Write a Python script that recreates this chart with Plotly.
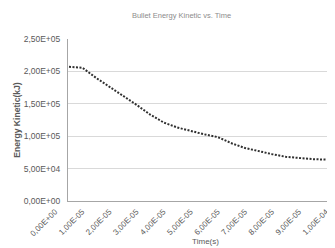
import plotly.graph_objects as go

time_s = [0.0, 5e-6, 1.0e-5, 1.5e-5, 2.0e-5, 2.5e-5, 3.0e-5, 3.5e-5, 4.0e-5, 4.5e-5,
          5.0e-5, 5.5e-5, 6.0e-5, 6.5e-5, 7.0e-5, 7.5e-5, 8.0e-5, 8.5e-5, 9.0e-5, 9.5e-5, 1.0e-4]
energy_kj = [207000, 205500, 190000, 176500, 163000, 148200, 133200, 121000, 113400, 107500,
             102800, 98500, 89100, 81700, 76600, 72300, 68200, 66000, 64600, 63800, 63500]

x_tickvals = [0.0, 1e-5, 2e-5, 3e-5, 4e-5, 5e-5, 6e-5, 7e-5, 8e-5, 9e-5, 1e-4]
x_ticktext = ["0,00E+00", "1,00E-05", "2,00E-05", "3,00E-05", "4,00E-05", "5,00E-05",
              "6,00E-05", "7,00E-05", "8,00E-05", "9,00E-05", "1,00E-04"]
y_tickvals = [0, 50000, 100000, 150000, 200000, 250000]
y_ticktext = ["0,00E+00", "5,00E+04", "1,00E+05", "1,50E+05", "2,00E+05", "2,50E+05"]

fig = go.Figure()
fig.add_trace(go.Scatter(x=time_s, y=energy_kj, mode="lines",
                         line=dict(color="#303030", width=2, dash="2px,1.5px"),
                         showlegend=False))

font = "Liberation Sans, Arial, sans-serif"
fig.update_layout(
    width=335, height=248,
    margin=dict(l=60, r=0, t=31, b=55),
    paper_bgcolor="white", plot_bgcolor="white",
    title=dict(text="Bullet Energy Kinetic vs. Time", x=0.518, xanchor="center",
               yref="container", y=0.972, yanchor="middle",
               font=dict(family=font, size=7.5, color="#8c8c8c")),
    font=dict(family=font, size=8.5, color="#595959"),
)
fig.update_xaxes(range=[-3.7e-7, 1.0111e-4], tickvals=x_tickvals, ticktext=x_ticktext,
                 tickangle=-45, showgrid=False, zeroline=False, showline=True,
                 linecolor="#a6a6a6", linewidth=1, ticks="", ticklabeloverflow="allow",
                 ticklabelshift=-14, ticklabelstandoff=2,
                 tickfont=dict(family=font, size=8, color="#595959"),
                 title=dict(text="Time(s)", font=dict(family=font, size=8, color="#595959"), standoff=0))
fig.update_yaxes(range=[0, 250000], tickvals=y_tickvals, ticktext=y_ticktext,
                 showgrid=True, gridcolor="#d9d9d9", gridwidth=1, zeroline=False,
                 showline=True, linecolor="#a6a6a6", linewidth=1, ticks="",
                 ticklabelstandoff=5,
                 tickfont=dict(family=font, size=8.5, color="#595959"),
                 title=dict(text="<b>Energy Kinetic(kJ)</b>", font=dict(family=font, size=8.6, color="#595959"), standoff=1))

fig.write_html("out.html")
